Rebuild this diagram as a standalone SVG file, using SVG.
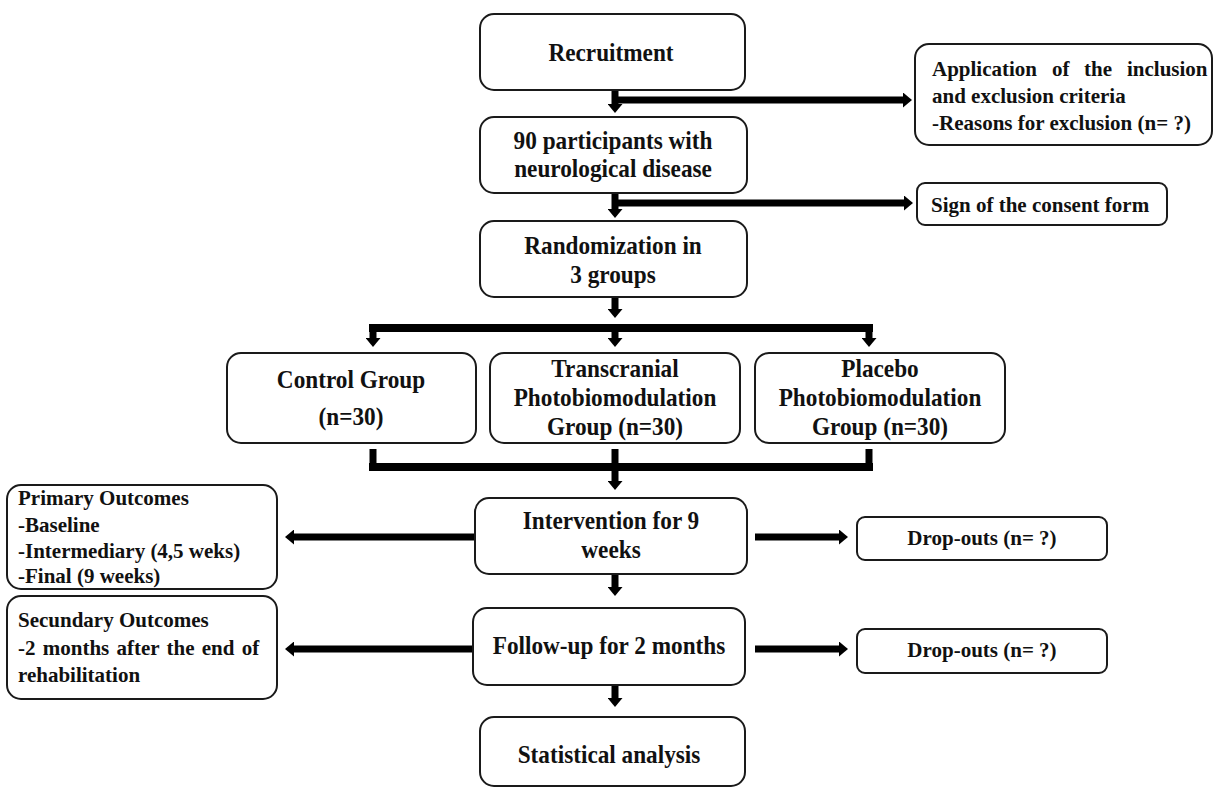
<svg xmlns="http://www.w3.org/2000/svg" width="1215" height="789" viewBox="0 0 1215 789">
<style>
.box{fill:#fff;stroke:#1a1a1a;stroke-width:2}
.t{font-family:'Liberation Serif','Tinos','Times New Roman','DejaVu Serif',serif;font-weight:700;fill:#111}
.c{text-anchor:middle;font-size:25px}
.s{font-size:21px}
.ln{stroke:#000;stroke-width:7;fill:none}
.bar{stroke:#000;stroke-width:8;fill:none}
</style>
<defs>
<marker id="ah" markerUnits="userSpaceOnUse" viewBox="0 0 9 15" refX="0" refY="7.5" markerWidth="9" markerHeight="15" orient="auto">
<path d="M0,0 L9,7.5 L0,15 Z" fill="#000"/>
</marker>
</defs>
<rect width="1215" height="789" fill="#fff"/>
<g id="connectors">
<line class="ln" x1="615" y1="90" x2="615" y2="104" marker-end="url(#ah)"/>
<line class="ln" x1="615" y1="100" x2="903" y2="100" marker-end="url(#ah)"/>
<line class="ln" x1="615" y1="193" x2="615" y2="209" marker-end="url(#ah)"/>
<line class="ln" x1="615" y1="203" x2="904" y2="203" marker-end="url(#ah)"/>
<line class="ln" x1="615" y1="297" x2="615" y2="309" marker-end="url(#ah)"/>
<line class="bar" x1="369" y1="328" x2="873" y2="328"/>
<line class="ln" x1="373" y1="324" x2="373" y2="338" marker-end="url(#ah)"/>
<line class="ln" x1="615" y1="328" x2="615" y2="338" marker-end="url(#ah)"/>
<line class="ln" x1="869" y1="324" x2="869" y2="338" marker-end="url(#ah)"/>
<line class="ln" x1="373" y1="449" x2="373" y2="471"/>
<line class="ln" x1="615" y1="449" x2="615" y2="471"/>
<line class="ln" x1="869" y1="449" x2="869" y2="471"/>
<line class="bar" x1="369" y1="467" x2="873" y2="467"/>
<line class="ln" x1="615" y1="467" x2="615" y2="481" marker-end="url(#ah)"/>
<line class="ln" x1="491" y1="537" x2="294" y2="537" marker-end="url(#ah)"/>
<line class="ln" x1="755" y1="537" x2="839" y2="537" marker-end="url(#ah)"/>
<line class="ln" x1="615" y1="574" x2="615" y2="587" marker-end="url(#ah)"/>
<line class="ln" x1="480" y1="649" x2="294" y2="649" marker-end="url(#ah)"/>
<line class="ln" x1="755" y1="649" x2="839" y2="649" marker-end="url(#ah)"/>
<line class="ln" x1="615" y1="685" x2="615" y2="698" marker-end="url(#ah)"/>
</g>
<g id="recruitment">
<rect class="box" x="480" y="14" width="265" height="76" rx="14"/>
<text class="t c" transform="translate(611,0) scale(0.93,1)" x="0" y="61" font-size="25.5">Recruitment</text>
</g>
<g id="application">
<rect class="box" x="915" y="44" width="297" height="101" rx="14"/>
<text class="t s"><tspan x="932" y="76">Application</tspan><tspan x="1052" y="76">of</tspan><tspan x="1084" y="76">the</tspan><tspan x="1127" y="76">inclusion</tspan><tspan x="932" y="103">and exclusion criteria</tspan><tspan x="932" y="130">-Reasons for exclusion (n= ?)</tspan></text>
</g>
<g id="participants">
<rect class="box" x="480" y="117" width="267" height="76" rx="14"/>
<text class="t c" transform="translate(613,0) scale(0.93,1)"><tspan x="0" y="149">90 participants with</tspan><tspan x="0" y="177">neurological disease</tspan></text>
</g>
<g id="consent">
<rect class="box" x="917" y="183" width="250" height="42" rx="8"/>
<text class="t s" x="931" y="212">Sign of the consent form</text>
</g>
<g id="randomization">
<rect class="box" x="480" y="221" width="267" height="76" rx="14"/>
<text class="t c" transform="translate(613,0) scale(0.93,1)"><tspan x="0" y="254">Randomization in</tspan><tspan x="0" y="283">3 groups</tspan></text>
</g>
<g id="control">
<rect class="box" x="227" y="353" width="249" height="90" rx="14"/>
<text class="t c" transform="translate(351,0) scale(0.93,1)"><tspan x="0" y="388">Control Group</tspan><tspan x="0" y="425">(n=30)</tspan></text>
</g>
<g id="transcranial">
<rect class="box" x="490" y="353" width="250" height="90" rx="14"/>
<text class="t c" transform="translate(615,0) scale(0.93,1)"><tspan x="0" y="377">Transcranial</tspan><tspan x="0" y="406">Photobiomodulation</tspan><tspan x="0" y="435">Group (n=30)</tspan></text>
</g>
<g id="placebo">
<rect class="box" x="755" y="353" width="250" height="90" rx="14"/>
<text class="t c" transform="translate(880,0) scale(0.93,1)"><tspan x="0" y="377">Placebo</tspan><tspan x="0" y="406">Photobiomodulation</tspan><tspan x="0" y="435">Group (n=30)</tspan></text>
</g>
<g id="intervention">
<rect class="box" x="475" y="498" width="272" height="76" rx="14"/>
<text class="t c" transform="translate(611,0) scale(0.93,1)"><tspan x="0" y="529">Intervention for 9</tspan><tspan x="0" y="558">weeks</tspan></text>
</g>
<g id="primary">
<rect class="box" x="7" y="485" width="270" height="104" rx="14"/>
<text class="t s"><tspan x="18" y="505">Primary Outcomes</tspan><tspan x="18" y="532">-Baseline</tspan><tspan x="18" y="558">-Intermediary (4,5 weks)</tspan><tspan x="18" y="583">-Final (9 weeks)</tspan></text>
</g>
<g id="dropouts1">
<rect class="box" x="857" y="517" width="250" height="43" rx="8"/>
<text class="t s" x="982" y="545" text-anchor="middle">Drop-outs (n= ?)</text>
</g>
<g id="followup">
<rect class="box" x="473" y="608" width="272" height="77" rx="14"/>
<text class="t c" transform="translate(609,0) scale(0.93,1)" x="0" y="654">Follow-up for 2 months</text>
</g>
<g id="secondary">
<rect class="box" x="7" y="596" width="270" height="103" rx="14"/>
<text class="t s"><tspan x="18" y="627">Secundary Outcomes</tspan><tspan x="18" y="655" word-spacing="2">-2 months after the end of</tspan><tspan x="18" y="682">rehabilitation</tspan></text>
</g>
<g id="dropouts2">
<rect class="box" x="857" y="629" width="250" height="44" rx="8"/>
<text class="t s" x="982" y="657" text-anchor="middle">Drop-outs (n= ?)</text>
</g>
<g id="statistics">
<rect class="box" x="480" y="717" width="265" height="69" rx="14"/>
<text class="t c" transform="translate(609,0) scale(0.93,1)" x="0" y="763">Statistical analysis</text>
</g>
</svg>
